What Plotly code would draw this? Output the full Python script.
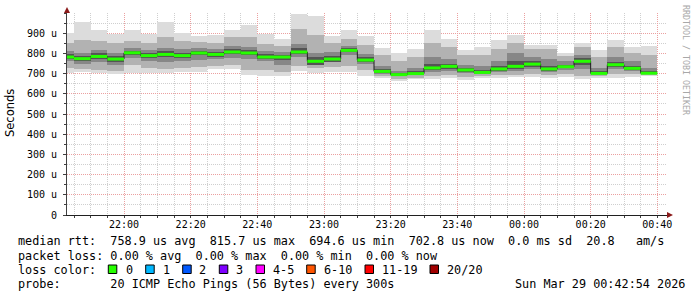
import plotly.graph_objects as go
import pandas as pd

# ---------------- data ----------------
# bar end times: 5-minute steps from 21:45 to 00:40
bar_end = pd.date_range("2026-03-28 21:45", periods=36, freq="5min")

rtt_min = [704, 709, 701, 699, 704, 704, 704, 707, 707, 721, 721, 692, 687, 687, 712, 704, 707, 707,
           687, 679, 663, 671, 671, 679, 666, 679, 679, 683, 683, 679, 683, 671, 679, 679, 683, 687]
rtt_p10 = [730, 725, 720, 715, 745, 730, 725, 730, 735, 740, 745, 720, 720, 710, 740, 730, 735, 740,
           720, 690, 675, 680, 690, 695, 685, 690, 695, 695, 700, 695, 700, 690, 690, 700, 700, 695]
rtt_p25 = [760, 750, 755, 745, 775, 760, 755, 760, 765, 770, 775, 770, 760, 745, 780, 750, 760, 790,
           750, 700, 688, 692, 710, 715, 705, 700, 710, 715, 725, 710, 720, 725, 698, 725, 715, 700]
rtt_p40 = [770, 760, 770, 755, 790, 775, 780, 775, 790, 782, 795, 790, 770, 765, 795, 745, 758, 805,
           755, 703, 690, 695, 718, 725, 710, 702, 715, 725, 735, 715, 727, 745, 699, 735, 718, 700]
rtt_med = [782, 774, 785, 772, 803, 789, 795, 789, 802, 795, 807, 802, 782, 782, 807, 761, 772, 815,
           767, 711, 695, 700, 728, 736, 718, 706, 723, 736, 747, 723, 734, 761, 701, 744, 726, 702]
rtt_p60 = [795, 787, 800, 785, 812, 800, 810, 803, 812, 808, 820, 815, 795, 793, 825, 780, 788, 825,
           780, 725, 705, 712, 750, 750, 730, 720, 738, 760, 760, 740, 745, 775, 712, 758, 738, 712]
rtt_p75 = [810, 800, 815, 800, 825, 815, 825, 820, 825, 820, 835, 830, 810, 805, 845, 800, 805, 835,
           795, 740, 715, 730, 780, 770, 745, 740, 760, 800, 780, 770, 760, 790, 730, 780, 760, 730]
rtt_p90 = [850, 868, 860, 850, 860, 850, 880, 860, 855, 850, 880, 880, 845, 835, 920, 890, 850, 870,
           840, 790, 760, 780, 850, 830, 790, 790, 820, 850, 820, 820, 785, 830, 780, 830, 800, 790]
rtt_max = [902, 956, 918, 894, 918, 894, 954, 902, 886, 891, 918, 940, 894, 869, 993, 985, 886, 918,
           886, 825, 803, 820, 914, 869, 815, 831, 864, 889, 844, 841, 803, 853, 815, 864, 831, 836]

y_tickvals = [0, 100, 200, 300, 400, 500, 600, 700, 800, 900]
y_ticktext = ["0", "100 u", "200 u", "300 u", "400 u", "500 u", "600 u", "700 u", "800 u", "900 u"]

loss_labels = ["0", "1", "2", "3", "4-5", "6-10", "11-19", "20/20"]
loss_colors = ["#26ff00", "#00b8ff", "#0059ff", "#7e00ff", "#ff00ff", "#ff5500", "#ff0000", "#a10000"]

line1 = "median rtt:  758.9 us avg  815.7 us max  694.6 us min  702.8 us now  0.0 ms sd  20.8   am/s"
line2 = "packet loss: 0.00 % avg  0.00 % max  0.00 % min  0.00 % now"
line3 = "loss color:"
line4 = "probe:       20 ICMP Echo Pings (56 Bytes) every 300s"
stamp = "Sun Mar 29 00:42:54 2026"

# ---------------- figure ----------------
MONO = "DejaVu Sans Mono, monospace"
W, H = 697, 297
L, R, T, B = 67, 30, 13, 82
PW, PH = W - L - R, H - T - B

def px(x):
    return (x - L) / PW

def py(y):
    return 1 - (y - T) / PH

step = pd.Timedelta(minutes=5)
centers = bar_end - step / 2
starts = bar_end - step

fig = go.Figure()

layers = [
    (rtt_min, rtt_max, "#dcdcdc"),
    (rtt_p10, rtt_p90, "#b2b2b2"),
    (rtt_p25, rtt_p75, "#878787"),
    (rtt_p40, rtt_p60, "#545454"),
]
for lo, hi, col in layers:
    fig.add_trace(go.Bar(
        x=centers, y=[h - l for l, h in zip(lo, hi)], base=lo,
        width=300000, marker=dict(color=col, line=dict(width=0)),
        hoverinfo="skip", showlegend=False))

# dark step line for median
sx = list(starts) + [bar_end[-1]]
sy = rtt_med + [rtt_med[-1]]
fig.add_trace(go.Scatter(x=sx, y=sy, mode="lines", line=dict(color="#202020", width=1, shape="hv"),
                         hoverinfo="skip", showlegend=False))

# green median segments
gx, gy = [], []
for s, e, m in zip(starts, bar_end, rtt_med):
    gx += [s, e, None]
    gy += [m, m, None]
fig.add_trace(go.Scatter(x=gx, y=gy, mode="lines", line=dict(color=loss_colors[0], width=3),
                         hoverinfo="skip", showlegend=False))

shapes = []
# axis arrows
arrow_col = "#8b1a1a"
shapes.append(dict(type="path", xref="paper", yref="paper",
                   path=f"M {px(64)} {py(13)} L {px(70)} {py(13)} L {px(67)} {py(7)} Z",
                   fillcolor=arrow_col, line=dict(width=0)))
shapes.append(dict(type="path", xref="paper", yref="paper",
                   path=f"M {px(667)} {py(212)} L {px(667)} {py(218)} L {px(673)} {py(215)} Z",
                   fillcolor=arrow_col, line=dict(width=0)))

# loss color boxes
box_x = [108.3, 145.7, 182.7, 219.3, 256, 306.7, 365, 430]
lab_x = [124, 160.7, 197.3, 234, 270.7, 321.7, 380, 445]
for bx, col in zip(box_x, loss_colors):
    shapes.append(dict(type="rect", xref="paper", yref="paper",
                       x0=px(bx), x1=px(bx + 8.5), y0=py(273.5), y1=py(265),
                       fillcolor=col, line=dict(color="black", width=1)))

ann = []
tf = dict(family=MONO, size=11.8, color="black")
for txt, yy in [(line1, 241.5), (line2, 255.5), (line3, 269.5), (line4, 283.5)]:
    ann.append(dict(text=txt, xref="paper", yref="paper", x=px(16), y=py(yy),
                    xanchor="left", yanchor="middle", showarrow=False, font=tf))
ann.append(dict(text=stamp, xref="paper", yref="paper", x=px(513), y=py(283.5),
                xanchor="left", yanchor="middle", showarrow=False, font=tf))
for lx, lab in zip(lab_x, loss_labels):
    ann.append(dict(text=lab, xref="paper", yref="paper", x=px(lx), y=py(269.5),
                    xanchor="left", yanchor="middle", showarrow=False, font=tf))
ann.append(dict(text="Seconds", xref="paper", yref="paper", x=px(10), y=py(113),
                xanchor="center", yanchor="middle", textangle=-90, showarrow=False,
                font=dict(family="DejaVu Sans, sans-serif", size=11.5, color="black")))
ann.append(dict(text="RRDTOOL / TOBI OETIKER", xref="paper", yref="paper", x=px(686), y=py(60),
                xanchor="center", yanchor="middle", textangle=90, showarrow=False,
                font=dict(family=MONO, size=8.3, color="#a8a8a8")))

fig.update_layout(
    width=W, height=H, margin=dict(l=L, r=R, t=T, b=B),
    paper_bgcolor="white", plot_bgcolor="white",
    barmode="overlay", bargap=0, showlegend=False,
    shapes=shapes, annotations=ann,
    font=dict(family=MONO, size=10, color="black"),
)
fig.update_xaxes(
    type="date", range=["2026-03-28 21:42:54", "2026-03-29 00:42:54"],
    tick0="2026-03-28 22:00", dtick=1200000, tickformat="%H:%M",
    showgrid=True, gridcolor="#eba0a0", griddash="1px,1px", gridwidth=1,
    minor=dict(dtick=300000, tick0="2026-03-28 22:00", showgrid=True, gridcolor="#cfcfcf",
               griddash="1px,1px", ticks="outside", ticklen=2, tickcolor="#404040"),
    showline=True, linecolor="#202020", linewidth=1,
    ticks="outside", ticklen=2, tickcolor="#404040", ticklabelstandoff=-2,
    tickfont=dict(family=MONO, size=10, color="black"), zeroline=False,
)
fig.update_yaxes(
    range=[0, 1000], tickvals=y_tickvals, ticktext=y_ticktext,
    showgrid=True, gridcolor="#eba0a0", griddash="1px,1px", gridwidth=1,
    minor=dict(dtick=50, tick0=0, showgrid=True, gridcolor="#cfcfcf",
               griddash="1px,1px", ticks="outside", ticklen=2, tickcolor="#404040"),
    showline=True, linecolor="#404040", linewidth=1,
    ticks="outside", ticklen=3, tickcolor="#404040", ticklabelstandoff=4,
    tickfont=dict(family=MONO, size=10, color="black"), zeroline=False,
)

fig.write_html("out.html")
